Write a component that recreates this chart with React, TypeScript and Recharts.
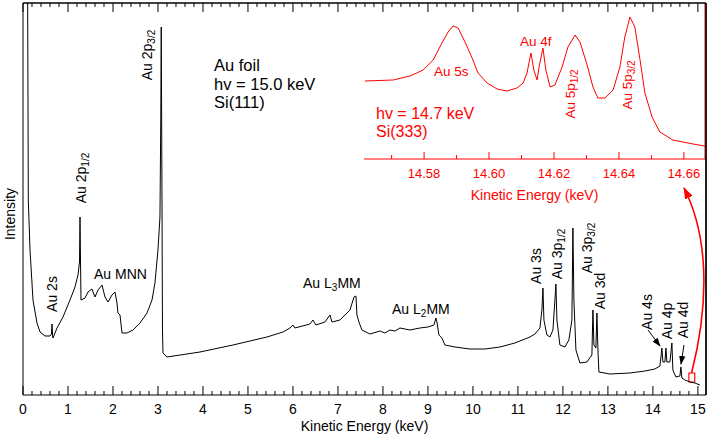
import React from 'react';
import { LineChart, Line, XAxis, YAxis, ReferenceLine, ReferenceArea } from 'recharts';

// main survey spectrum, kinetic energy (keV) vs intensity (arb. units)
const MAIN_KE = [
  0.1, 0.111, 0.118, 0.156, 0.222, 0.311, 0.378, 0.489, 0.6, 0.633, 0.644, 0.658, 0.667, 0.756, 0.889,
  1.044, 1.156, 1.222, 1.256, 1.267, 1.278, 1.289, 1.378, 1.444, 1.533, 1.6, 1.667, 1.756, 1.822, 1.889,
  1.978, 2.044, 2.089, 2.111, 2.156, 2.2, 2.311, 2.444, 2.6, 2.756, 2.867, 2.933, 3.0, 3.044, 3.062,
  3.073, 3.089, 3.1, 3.111, 3.2, 3.933, 4.667, 5.422, 5.778, 5.933, 6.0, 6.044, 6.378, 6.444, 6.511,
  6.711, 6.822, 6.867, 7.044, 7.267, 7.356, 7.4, 7.422, 7.467, 7.533, 7.711, 7.933, 8.044, 8.156, 8.267,
  8.378, 8.6, 8.822, 9.0, 9.133, 9.178, 9.2, 9.244, 9.311, 9.378, 9.6, 9.933, 10.267, 10.6, 10.933,
  11.156, 11.267, 11.378, 11.489, 11.533, 11.556, 11.578, 11.644, 11.711, 11.778, 11.822, 11.844, 11.867,
  11.933, 12.044, 12.133, 12.2, 12.222, 12.244, 12.289, 12.378, 12.533, 12.644, 12.667, 12.689, 12.733,
  12.756, 12.778, 12.8, 13.044, 13.489, 13.822, 14.044, 14.156, 14.2, 14.222, 14.267, 14.289, 14.311,
  14.378, 14.422, 14.444, 14.511, 14.6, 14.622, 14.644, 14.711, 14.822, 14.933, 15.044,
];
const MAIN_INT = [
  445, 295, 195, 145, 95, 72, 63, 59, 59, 61, 71, 59, 57, 67, 78,
  95, 108, 120, 133, 178, 135, 95, 97, 103, 106, 98, 105, 110, 98, 93,
  100, 103, 92, 82, 80, 62, 62, 65, 72, 82, 95, 112, 145, 178, 275,
  368, 195, 65, 42, 38, 43, 50, 58, 63, 67, 70, 67, 71, 75, 70,
  73, 80, 73, 75, 85, 98, 99, 80, 73, 65, 61, 64, 62, 65, 64,
  67, 65, 67, 68, 70, 77, 73, 60, 57, 50, 48, 46, 46, 48, 52,
  56, 58, 61, 67, 85, 107, 75, 60, 58, 65, 95, 111, 75,
  50, 48, 55, 75, 167, 95, 45, 32, 33, 40, 85, 50, 47,
  82, 45, 23, 21, 22, 24, 26, 29, 47, 33, 33, 47, 33,
  33, 52, 25, 18, 19, 28, 17, 15, 13, 12, 10,
];

// high-resolution inset near the Fermi edge
const INSET_KE = [
  14.5618, 14.5705, 14.5757, 14.5797, 14.5828, 14.5855, 14.5874, 14.5889, 14.5905, 14.5926, 14.5948,
  14.5966, 14.5994, 14.6025, 14.6055, 14.6086, 14.6105, 14.6117, 14.6129, 14.6138, 14.6148, 14.6154,
  14.6166, 14.6175, 14.6188, 14.6203, 14.6225, 14.6243, 14.6265, 14.628, 14.6302, 14.632, 14.6335,
  14.6357, 14.6382, 14.6403, 14.6418, 14.6434, 14.6449, 14.6465, 14.648, 14.6502, 14.6526, 14.6566,
  14.6628, 14.6665,
];
const INSET_INT = [
  78, 79, 83, 89, 99, 116, 127, 133, 131, 117, 101,
  86, 76, 70, 68, 71, 76, 86, 106, 89, 79, 92,
  111, 89, 72, 74, 92, 112, 124, 117, 94, 72, 61,
  61, 69, 92, 122, 142, 132, 99, 66, 42, 27, 19,
  15, 13,
];

const MAIN_TICK_LABELS = [0, 1, 2, 3, 4, 5, 6, 7, 8, 9, 10, 11, 12, 13, 14, 15];
const INSET_TICK_LABELS = [14.58, 14.6, 14.62, 14.64, 14.66];

const mainData = MAIN_KE.map((e, i) => ({ e, v: MAIN_INT[i] }));
const insetData = INSET_KE.map((e, i) => ({ e, v: INSET_INT[i] }));

const MAIN_TICKS = MAIN_TICK_LABELS.flatMap((t, i) =>
  i === MAIN_TICK_LABELS.length - 1 ? [t] : [0, 0.2, 0.4, 0.6, 0.8].map((d) => +(t + d).toFixed(1))
);
const INSET_TICKS = INSET_TICK_LABELS.flatMap((t) => [+(t - 0.01).toFixed(2), t]);

const RED = '#f00';
const FONT = '"Liberation Sans", Arial, Helvetica, sans-serif';

// main plot frame
const X_MAX = 15.18;
const Y_MAX = 392;
const PL = 23;
const PT = 3;
const PW = 683;
const PH = 392;
const px = (e: number) => PL + (e / X_MAX) * PW;
const py = (v: number) => PT + PH - (v / Y_MAX) * PH;

const isInt = (v: number) => Math.abs(v - Math.round(v)) < 1e-6;

const BottomTick = (props: any) => {
  const { x, y, payload } = props;
  const major = isInt(payload.value);
  return (
    <g>
      <line x1={x} x2={x} y1={y} y2={y - (major ? 9 : 4)} stroke="#000" />
      {major && (
        <text x={x} y={y + 19} textAnchor="middle" fontSize={14} fill="#000" fontFamily={FONT}>
          {Math.round(payload.value)}
        </text>
      )}
    </g>
  );
};

const InsetTick = (props: any) => {
  const { x, y, payload } = props;
  const major = Math.round(payload.value * 100) % 2 === 0;
  return (
    <g>
      <line x1={x} x2={x} y1={y} y2={y - (major ? 7 : 4)} stroke={RED} />
      {major && (
        <text x={x} y={y + 19} textAnchor="middle" fontSize={13} fill={RED} fontFamily={FONT}>
          {payload.value.toFixed(2)}
        </text>
      )}
    </g>
  );
};

const Rot = ({ x, y, fill = '#000', size = 14, children }: any) => (
  <text transform={`translate(${x},${y}) rotate(-90)`} textAnchor="middle" fontSize={size} fill={fill}>
    {children}
  </text>
);

const Sub = ({ children }: any) => (
  <tspan fontSize={10} dy={3}>
    {children}
  </tspan>
);

export default function App() {
  return (
    <div style={{ position: 'absolute', left: 0, top: 0, width: 708, height: 443, background: '#fff', fontFamily: FONT }}>
      <LineChart width={708} height={443} data={mainData} margin={{ top: PT, right: 2, left: 0, bottom: 0 }}>
        <XAxis
          dataKey="e"
          type="number"
          domain={[0, X_MAX]}
          ticks={MAIN_TICKS}
          interval={0}
          tick={<BottomTick />}
          tickLine={false}
          tickSize={0}
          tickMargin={0}
          height={48}
          axisLine={{ stroke: '#000' }}
          allowDataOverflow
        />
        <YAxis
          type="number"
          domain={[0, Y_MAX]}
          width={PL}
          tick={false}
          tickLine={false}
          axisLine={{ stroke: '#000' }}
          allowDataOverflow
        />
        <ReferenceLine x={X_MAX} stroke="#000" />
        <Line type="linear" dataKey="v" stroke="#000" strokeWidth={1} dot={false} isAnimationActive={false} />
        <ReferenceArea
          x1={14.8}
          x2={14.93}
          y1={13}
          y2={22}
          stroke={RED}
          strokeWidth={1.2}
          fill="none"
          fillOpacity={0}
          ifOverflow="visible"
        />
      </LineChart>

      <div style={{ position: 'absolute', left: 363, top: PT }}>
        <LineChart width={343} height={206} data={insetData} margin={{ top: 0, right: 1, left: 1, bottom: 0 }}>
          <XAxis
            dataKey="e"
            type="number"
            domain={[14.5615, 14.6665]}
            ticks={INSET_TICKS}
            interval={0}
            tick={<InsetTick />}
            tickLine={false}
            tickSize={0}
            tickMargin={0}
            height={50}
            axisLine={{ stroke: RED }}
            allowDataOverflow
          />
          <YAxis type="number" domain={[0, 156]} width={0} tick={false} tickLine={false} axisLine={{ stroke: RED }} />
          <ReferenceLine x={14.6665} stroke={RED} />
          <Line type="linear" dataKey="v" stroke={RED} strokeWidth={1} dot={false} isAnimationActive={false} />
        </LineChart>
      </div>

      <svg width={708} height={443} style={{ position: 'absolute', left: 0, top: 0, pointerEvents: 'none' }} fontFamily={FONT}>
        <defs>
          <marker id="ahk" viewBox="0 0 10 10" refX="9" refY="5" markerWidth="9" markerHeight="9" markerUnits="userSpaceOnUse" orient="auto">
            <path d="M0,1.5 L10,5 L0,8.5 z" fill="#000" />
          </marker>
          <marker id="ahr" viewBox="0 0 10 10" refX="9" refY="5" markerWidth="12" markerHeight="12" markerUnits="userSpaceOnUse" orient="auto">
            <path d="M0,1.5 L10,5 L0,8.5 z" fill={RED} />
          </marker>
        </defs>

        {/* top mirror axis with inward ticks, right edge of frame */}
        <line x1={px(0)} y1={py(Y_MAX)} x2={px(X_MAX)} y2={py(Y_MAX)} stroke="#000" strokeWidth={1.5} />
        <line x1={px(X_MAX)} y1={py(Y_MAX)} x2={px(X_MAX)} y2={py(0)} stroke="#000" strokeWidth={1.5} />
        {MAIN_TICKS.map((t) => (
          <line key={t} x1={px(t)} x2={px(t)} y1={py(Y_MAX)} y2={py(Y_MAX) + (isInt(t) ? 9 : 4)} stroke="#000" />
        ))}

        {/* axis titles */}
        <text x={PL + PW / 2} y={431} textAnchor="middle" fontSize={14}>Kinetic Energy (keV)</text>
        <Rot x={15} y={214}>Intensity</Rot>
        <text x={534.5} y={200} textAnchor="middle" fontSize={14} fill={RED}>Kinetic Energy (keV)</text>

        {/* main annotations */}
        <text x={214} fontSize={16.5}>
          <tspan x={214} y={71}>Au foil</tspan>
          <tspan x={214} y={90}>hv = 15.0 keV</tspan>
          <tspan x={214} y={108}>Si(111)</tspan>
        </text>
        <Rot x={57} y={294}>Au 2s</Rot>
        <Rot x={86} y={178}>Au 2p<Sub>1/2</Sub></Rot>
        <Rot x={152} y={55}>Au 2p<Sub>3/2</Sub></Rot>
        <text x={94} y={279} fontSize={14}>Au MNN</text>
        <text x={303} y={288} fontSize={14}>Au L<Sub>3</Sub><tspan dy={-3}>MM</tspan></text>
        <text x={392} y={314} fontSize={14}>Au L<Sub>2</Sub><tspan dy={-3}>MM</tspan></text>
        <Rot x={541} y={266}>Au 3s</Rot>
        <Rot x={562} y={254}>Au 3p<Sub>1/2</Sub></Rot>
        <Rot x={592} y={248}>Au 3p<Sub>3/2</Sub></Rot>
        <Rot x={605} y={291}>Au 3d</Rot>
        <Rot x={652} y={312}>Au 4s</Rot>
        <Rot x={672} y={321}>Au 4p</Rot>
        <Rot x={688} y={320}>Au 4d</Rot>
        <line x1={648} y1={330} x2={660} y2={346} stroke="#000" markerEnd="url(#ahk)" />
        <line x1={684} y1={345} x2={681} y2={364} stroke="#000" markerEnd="url(#ahk)" />

        {/* link from the marked region to the inset */}
        <path
          d={`M ${px(14.86)} ${py(22)} C 710 300, 708 235, 684 188`}
          fill="none"
          stroke={RED}
          strokeWidth={1.6}
          markerEnd="url(#ahr)"
        />

        {/* inset annotations */}
        <text x={434} y={76} fontSize={13.5} fill={RED}>Au 5s</text>
        <text x={520} y={46} fontSize={13.5} fill={RED}>Au 4f</text>
        <Rot x={575} y={94} fill={RED} size={13.5}>Au 5p<Sub>1/2</Sub></Rot>
        <Rot x={632} y={85} fill={RED} size={13.5}>Au 5p<Sub>3/2</Sub></Rot>
        <text x={376} y={119} fontSize={16} fill={RED}>hv = 14.7 keV</text>
        <text x={376} y={137} fontSize={16} fill={RED}>Si(333)</text>
      </svg>
    </div>
  );
}
